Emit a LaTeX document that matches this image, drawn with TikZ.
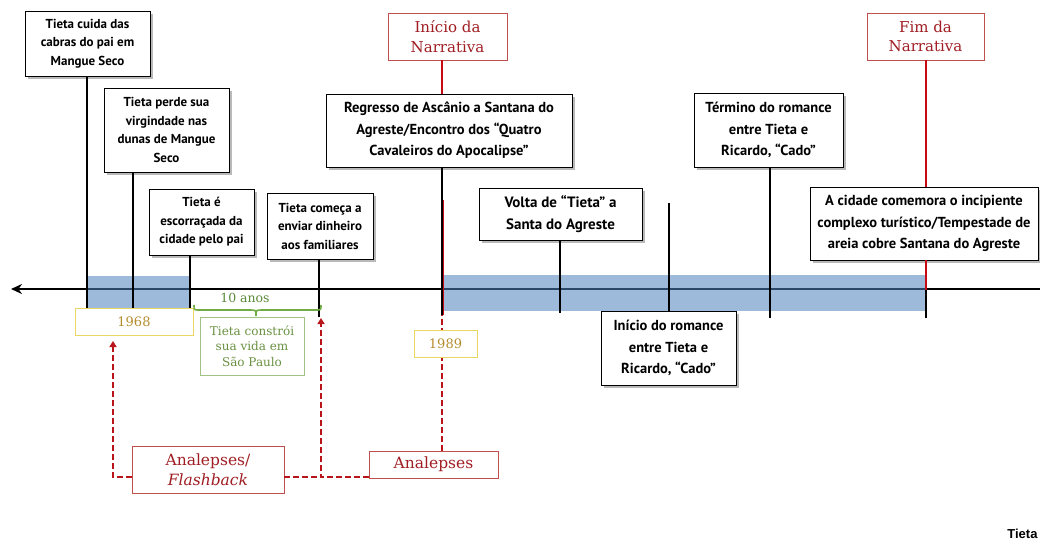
\documentclass[tikz,border=0pt]{standalone}
\usepackage{fontspec}
\usetikzlibrary{arrows.meta,shadows}
\newfontfamily\comicfont{PT Sans}
\newfontfamily\tagfont{Liberation Sans}
\newfontfamily\seriffont{DejaVu Serif}

\definecolor{boxred}{RGB}{192,80,77}
\definecolor{textred}{RGB}{160,30,35}
\definecolor{linered}{RGB}{200,10,20}
\definecolor{dashred}{RGB}{185,20,25}
\definecolor{goldline}{RGB}{235,215,100}
\definecolor{goldtext}{RGB}{180,140,45}
\definecolor{greenline}{RGB}{160,195,130}
\definecolor{greentext}{RGB}{105,145,65}
\definecolor{bracegreen}{RGB}{112,173,71}
\definecolor{bandblue}{RGB}{79,129,189}

\tikzset{
  event/.style={draw=black, line width=0.9pt, fill=white, align=center,
    inner sep=0pt, font=\comicfont\bfseries\fontsize{13}{18.5}\selectfont,
    drop shadow={shadow xshift=2.5pt, shadow yshift=-2.5pt, fill=black!50, opacity=0.55}},
  bigevent/.style={event, font=\comicfont\bfseries\fontsize{14.5}{21.5}\selectfont},
  narrbox/.style={draw=boxred, line width=0.8pt, fill=white, align=center,
    inner sep=0pt, text=textred, font=\seriffont\fontsize{15}{19.5}\selectfont},
  yearbox/.style={draw=goldline, line width=0.8pt, fill=white, inner sep=0pt,
    text=goldtext, font=\seriffont\fontsize{13}{16}\selectfont},
  stagebox/.style={draw=greenline, line width=0.8pt, fill=white, align=center,
    inner sep=0pt, text=greentext, font=\seriffont\fontsize{12}{15.5}\selectfont},
  tick/.style={line width=2.6pt, black},
  redtick/.style={line width=2.6pt, linered},
  band/.style={fill=bandblue, fill opacity=0.55, draw=none},
  flash/.style={dashred, line width=2.2pt, dash pattern=on 6pt off 3pt},
  flashtip/.style={-{Triangle[length=6pt,width=7pt]}}
}

\begin{document}
\begin{tikzpicture}[x=1pt, y=-1pt]
\useasboundingbox (0,0) rectangle (1040,544);

% time axis
\coordinate (axR) at (1041,289);
\coordinate (axL) at (11,289);
\draw[line width=2.8pt, -{Stealth[length=11pt,width=10pt]}] (axR) -- (axL);

% shaded periods
\fill[band] (87,276) rectangle (190,308);
\fill[band] (443,275) rectangle (927,311);

% lower ends of the event ticks
\coordinate (t1) at (87,308);
\coordinate (t2) at (133,308);
\coordinate (t3) at (190,308);
\coordinate (t4) at (319,317);
\coordinate (t5) at (442,315);
\coordinate (t6) at (560,313);
\coordinate (t7) at (669,203);
\coordinate (t8) at (770,318);
\coordinate (t9) at (926,318);
\coordinate (t9a) at (926,290);

% event boxes
\node[event, minimum width=125pt, minimum height=65pt] (e1) at (87.5,43.5)
  {Tieta cuida das\\cabras do pai em\\Mangue Seco};
\node[event, minimum width=125pt, minimum height=84pt] (e2) at (166.5,130)
  {Tieta perde sua\\virgindade nas\\dunas de Mangue\\Seco};
\node[event, minimum width=105pt, minimum height=66pt] (e3) at (201.5,222)
  {Tieta é\\escorraçada da\\cidade pelo pai};
\node[event, minimum width=106pt, minimum height=66pt] (e4) at (320,226)
  {Tieta começa a\\enviar dinheiro\\aos familiares};
\node[bigevent, minimum width=246pt, minimum height=73pt] (e5) at (449,130.5)
  {Regresso de Ascânio a Santana do\\Agreste/Encontro dos “Quatro\\Cavaleiros do Apocalipse”};
\node[bigevent, minimum width=163pt, minimum height=52pt, font=\comicfont\bfseries\fontsize{15}{21.5}\selectfont] (e6) at (560.5,214)
  {Volta de “Tieta” a\\Santa do Agreste};
\node[bigevent, minimum width=135pt, minimum height=74pt] (e7) at (668.5,348)
  {Início do romance\\entre Tieta e\\Ricardo, “Cado”};
\node[bigevent, minimum width=149pt, minimum height=74pt] (e8) at (768.5,130)
  {Término do romance\\entre Tieta e\\Ricardo, “Cado”};
\node[bigevent, minimum width=228pt, minimum height=73pt] (e9) at (924,223.5)
  {A cidade comemora o incipiente\\complexo turístico/Tempestade de\\areia cobre Santana do Agreste};

% narrative start and end
\node[narrbox, minimum width=119pt, minimum height=47pt] (ini) at (447.5,36.5)
  {Início da\\Narrativa};
\node[narrbox, minimum width=117pt, minimum height=47pt] (fim) at (925.5,36.5)
  {Fim da\\Narrativa};

% ticks joining boxes to the axis
\draw[tick] (t1 |- e1.south) -- (t1);
\draw[tick] (t2 |- e2.south) -- (t2);
\draw[tick] (t3 |- e3.south) -- (t3);
\draw[tick] (t4 |- e4.south) -- (t4);
\draw[redtick] (t5 |- ini.south) -- (t5 |- e5.north);
\draw[tick] (t5 |- e5.south) -- (t5);
\draw[linered, line width=1.2pt] ([xshift=1.6pt]t5 |- 0,200) -- ([xshift=1.6pt]t5);
\draw[tick] (t6 |- e6.south) -- (t6);
\draw[tick] (t7) -- (t7 |- e7.north);
\draw[tick] (t8 |- e8.south) -- (t8);
\draw[redtick] (t9 |- fim.south) -- (t9 |- e9.north);
\draw[redtick] (t9 |- e9.south) -- (t9a);
\draw[tick] (t9a) -- (t9);

% the years spent away
\node[yearbox, minimum width=118pt, minimum height=27pt] (y68) at (134,321.5) {1968};
\node[text=bracegreen!80!black, font=\seriffont\fontsize{12.5}{14}\selectfont] (dec) at (245,298) {10 anos};
\draw[bracegreen, line width=1.6pt]
  (194,305) .. controls (194,310) .. (199,310) -- (250,310)
  .. controls (256,310) .. (256,316) .. controls (256,310) .. (262,310)
  -- (316,310) .. controls (321,310) .. (321,305);
\node[stagebox, minimum width=104pt, minimum height=58pt] (sp) at (252,346)
  {Tieta constrói\\sua vida em\\São Paulo};

% flashback links
\node[narrbox, minimum width=152pt, minimum height=47pt, font=\seriffont\fontsize{15.5}{20}\selectfont] (fb) at (208,469.5)
  {Analepses/\\\textit{Flashback}};
\node[narrbox, minimum width=129pt, minimum height=27pt, font=\seriffont\fontsize{15.5}{20}\selectfont] (an) at (433.5,464.5)
  {Analepses};
\coordinate (j1) at (321,477);
\coordinate (j0) at (113,477);
\coordinate (a68) at (113,341);
\coordinate (a89) at (321,318);
\draw[flash] (an.north -| t5) -- (t5);
\draw[flash, flashtip] (an.west |- j1) -- (j1) -- (a89);
\draw[flash] (fb.east |- j1) -- (j1);
\draw[flash, flashtip] (fb.west |- j0) -- (j0) -- (a68);

\node[yearbox, minimum width=63pt, minimum height=27pt] (y89) at (445.5,343.5) {1989};

% caption in the corner
\node[anchor=east, font=\tagfont\bfseries\fontsize{13}{15}\selectfont] (tag) at (1041,534) {Tieta};
\end{tikzpicture}
\end{document}
